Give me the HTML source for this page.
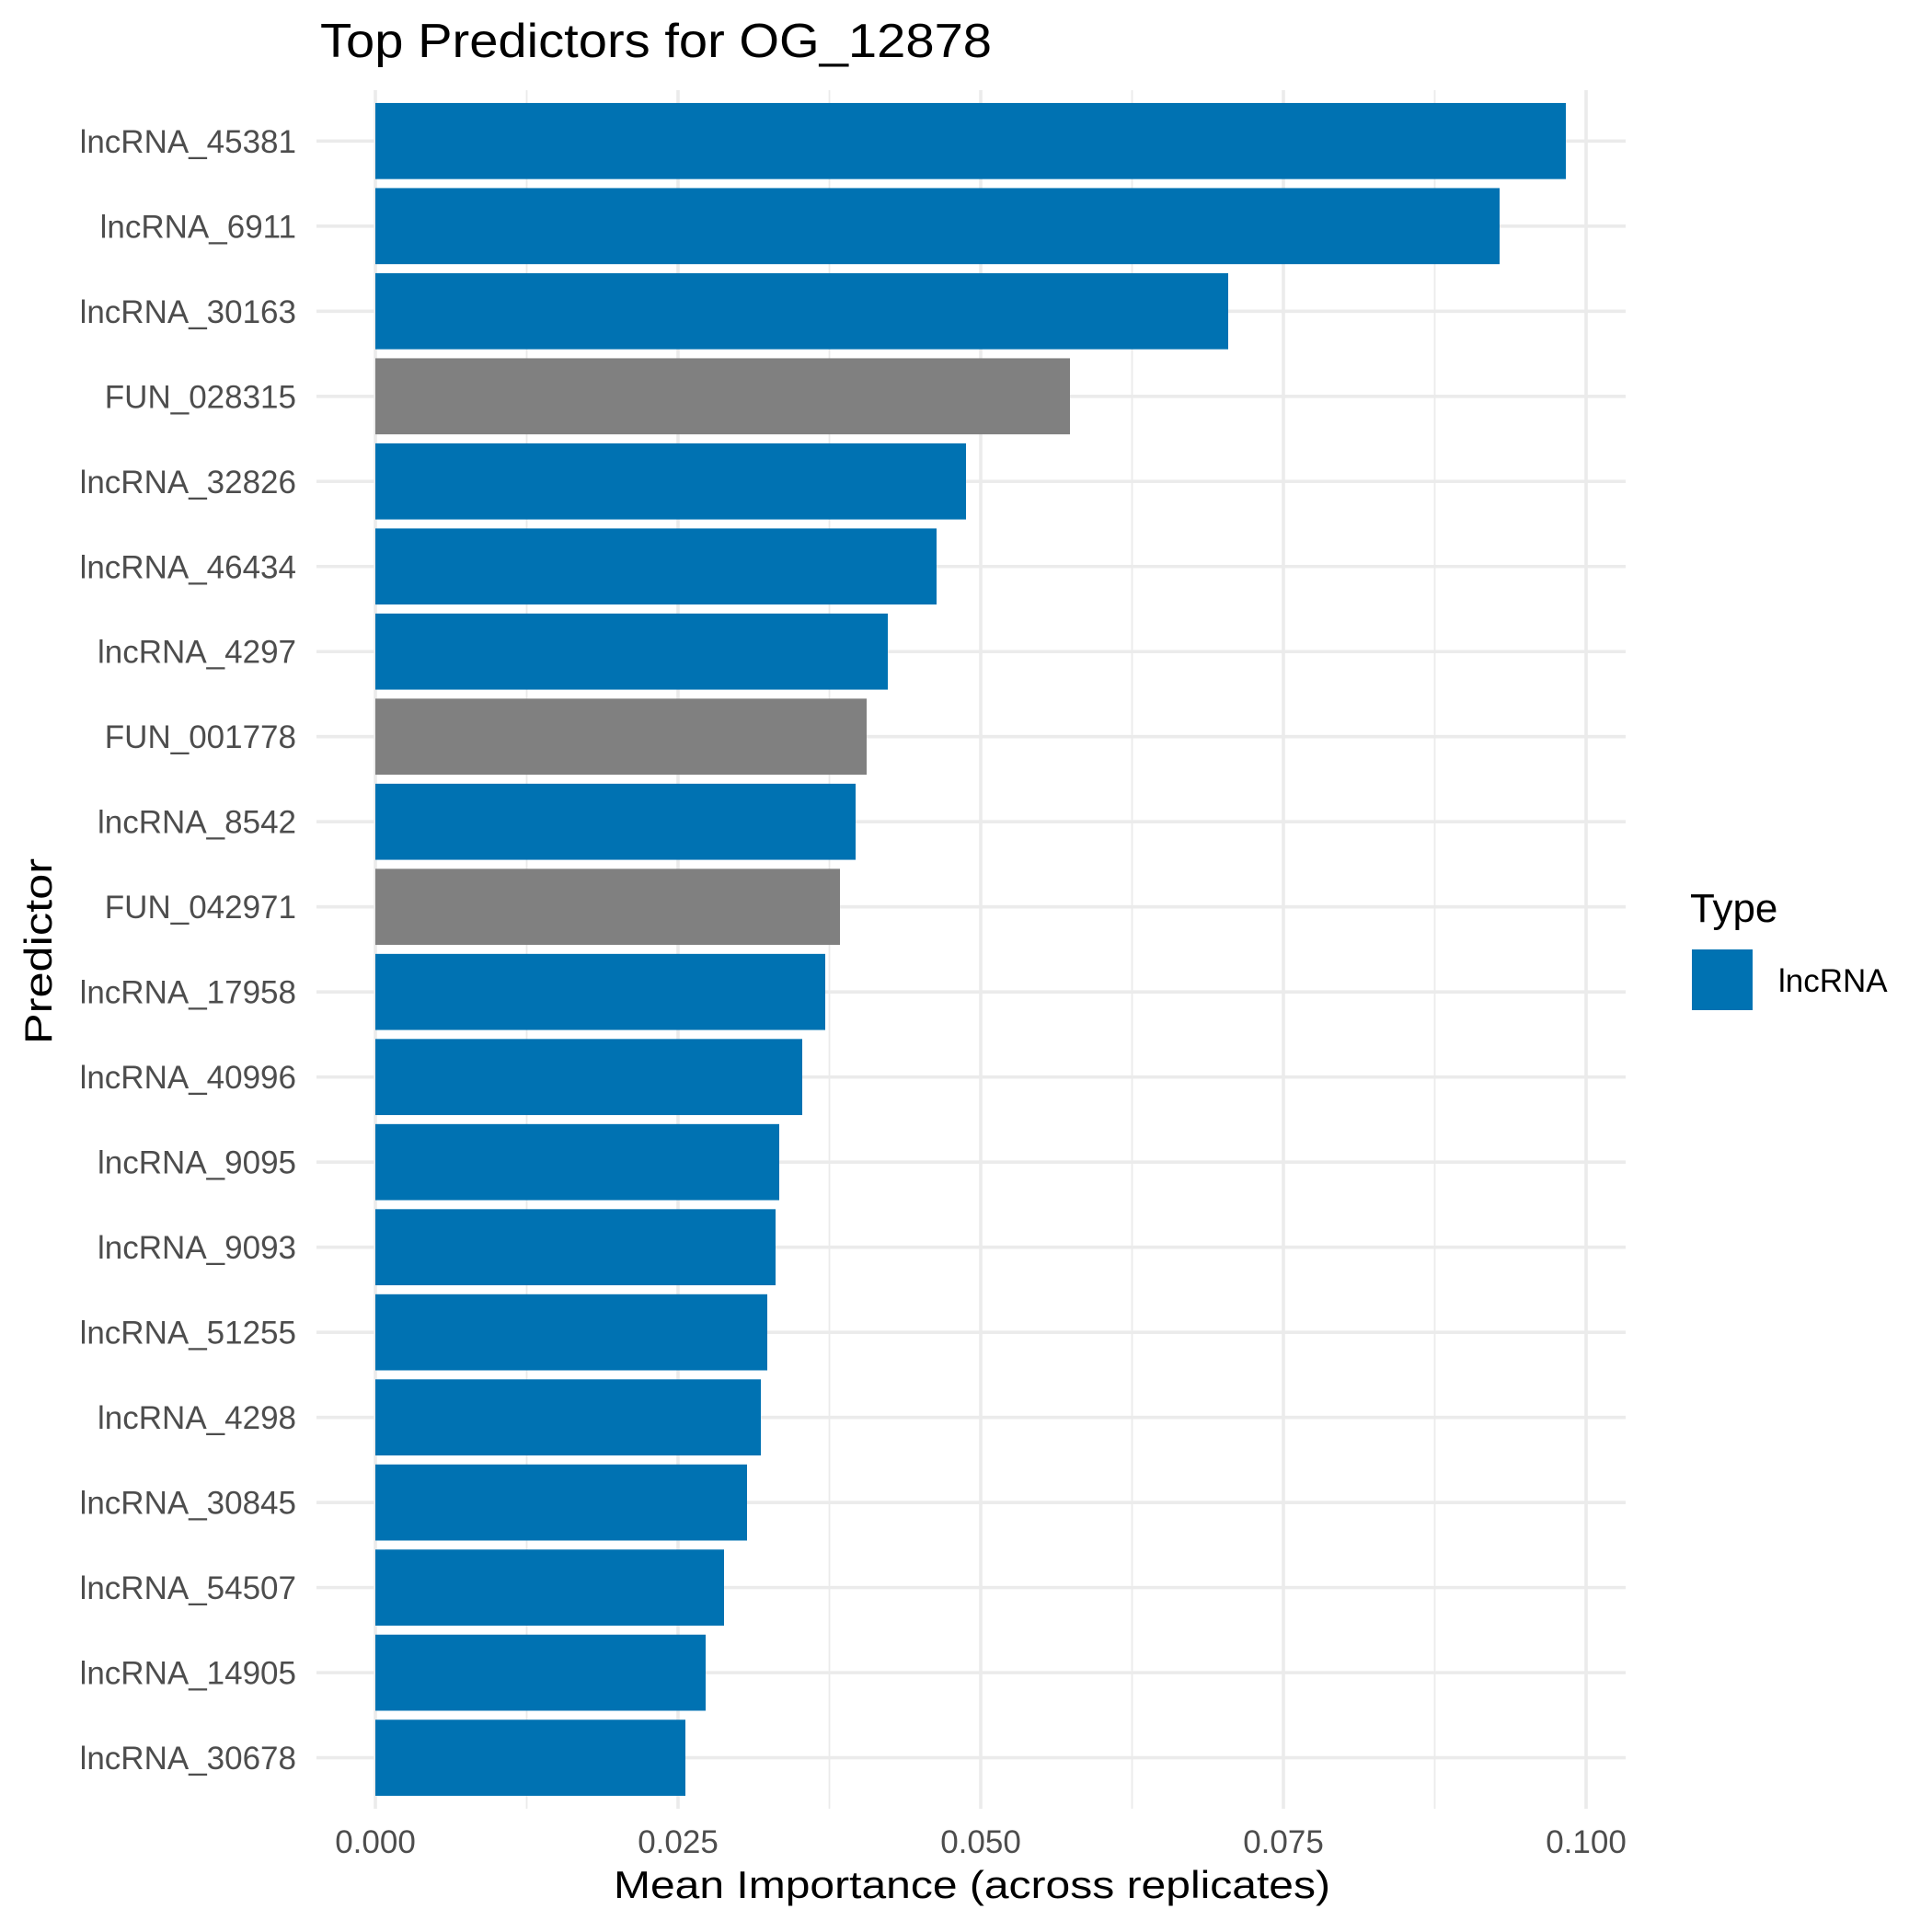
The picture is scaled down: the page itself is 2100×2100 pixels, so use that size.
<!DOCTYPE html>
<html><head><meta charset="utf-8"><style>html,body{margin:0;padding:0;background:#fff}svg{display:block}</style></head>
<body>
<svg xmlns="http://www.w3.org/2000/svg" width="2100" height="2100" viewBox="0 0 2100 2100" font-family="'Liberation Sans', sans-serif">
<rect width="2100" height="2100" fill="#fff"/>
<g stroke="#ebebeb">
<g stroke-width="1.8">
<line x1="572.5" y1="98" x2="572.5" y2="1966"/><line x1="901.5" y1="98" x2="901.5" y2="1966"/><line x1="1230.5" y1="98" x2="1230.5" y2="1966"/><line x1="1559.5" y1="98" x2="1559.5" y2="1966"/>
</g>
<g stroke-width="3.6">
<line x1="408" y1="98" x2="408" y2="1966"/><line x1="737" y1="98" x2="737" y2="1966"/><line x1="1066" y1="98" x2="1066" y2="1966"/><line x1="1395" y1="98" x2="1395" y2="1966"/><line x1="1724" y1="98" x2="1724" y2="1966"/>
</g>
<g stroke-width="3.6" id="hg"></g>
</g>
<g id="bars"></g>
<g id="labels" font-size="35" fill="#4d4d4d" text-anchor="end"></g>
<g font-size="35" fill="#4d4d4d" text-anchor="middle">
<text x="408" y="2014">0.000</text><text x="737" y="2014">0.025</text><text x="1066" y="2014">0.050</text><text x="1395" y="2014">0.075</text><text x="1724" y="2014">0.100</text>
</g>
<text x="348" y="62" font-size="52" textLength="730" lengthAdjust="spacingAndGlyphs">Top Predictors for OG_12878</text>
<text x="667" y="2063" font-size="42" textLength="779" lengthAdjust="spacingAndGlyphs">Mean Importance (across replicates)</text>
<text transform="translate(56,1135) rotate(-90)" font-size="42" textLength="202" lengthAdjust="spacingAndGlyphs">Predictor</text>
<text x="1837" y="1002" font-size="44">Type</text>
<rect x="1839" y="1032" width="66" height="66" fill="#0072B2"/>
<text x="1933" y="1078" font-size="35">lncRNA</text>
<script>
var names=["lncRNA_45381","lncRNA_6911","lncRNA_30163","FUN_028315","lncRNA_32826","lncRNA_46434","lncRNA_4297","FUN_001778","lncRNA_8542","FUN_042971","lncRNA_17958","lncRNA_40996","lncRNA_9095","lncRNA_9093","lncRNA_51255","lncRNA_4298","lncRNA_30845","lncRNA_54507","lncRNA_14905","lncRNA_30678"];
var ends=[1702,1630,1335,1163,1050,1018,965,942,930,913,897,872,847,843,834,827,812,787,767,745];
var ns="http://www.w3.org/2000/svg";
var hg=document.getElementById("hg"),bars=document.getElementById("bars"),lab=document.getElementById("labels");
for(var i=0;i<20;i++){var c=153.3+i*92.49;
var l=document.createElementNS(ns,"line");l.setAttribute("x1",344);l.setAttribute("x2",1767);l.setAttribute("y1",c);l.setAttribute("y2",c);hg.appendChild(l);
var r=document.createElementNS(ns,"rect");r.setAttribute("x",408);r.setAttribute("y",c-41.35);r.setAttribute("width",ends[i]-408);r.setAttribute("height",82.7);r.setAttribute("fill",names[i].indexOf("FUN")==0?"#808080":"#0072B2");bars.appendChild(r);
var t=document.createElementNS(ns,"text");t.setAttribute("x",322);t.setAttribute("y",c+12.5);t.textContent=names[i];lab.appendChild(t);}
</script>
</svg>
</body></html>
